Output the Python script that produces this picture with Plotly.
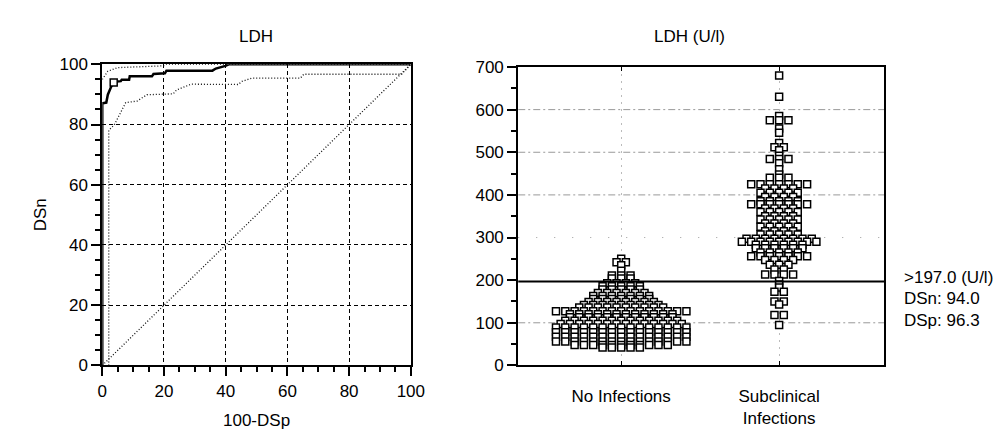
import plotly.graph_objects as go

# ---------------- data ----------------
# ROC curve (100-DSp, DSn)
roc_fpr = [0, 0, 0.2, 1.3, 1.8, 2.9, 3.9, 6.0, 6.3, 8.7, 8.9, 16.1, 16.6, 20.3, 20.8, 35.7, 36.8, 39.9, 41.0, 100]
roc_tpr = [0, 87.1, 87.1, 87.3, 89.9, 92.6, 94.2, 94.4, 94.9, 94.9, 96.0, 96.0, 96.8, 97.0, 97.9, 97.9, 98.6, 99.5, 100, 100]
# confidence bounds
ci_up_fpr = [0, 0.5, 1.8, 5.0, 19.8, 20.8, 100]
ci_up_tpr = [95.0, 95.8, 97.7, 98.9, 99.5, 100, 100]
ci_lo_fpr = [2.1, 2.1, 3.9, 5.0, 7.6, 11.3, 14.5, 23.0, 24.1, 28.8, 44.1, 45.2, 48.4, 64.2, 65.3, 97.0, 100]
ci_lo_tpr = [0, 78.1, 79.9, 82.0, 87.3, 87.8, 89.9, 90.2, 91.5, 93.4, 93.3, 94.3, 95.4, 95.4, 96.7, 96.7, 100]
diag = [0, 100]
cut_fpr = [3.7]
cut_tpr = [94.0]

# dot plot: LDH (U/l) value levels and number of animals at each level
categories = ["No Infections", "Subclinical<br>Infections"]
noinf_levels = [250, 242, 235, 222, 211, 204, 193, 186, 178, 170, 163, 156, 149, 142, 136, 127,
                120, 113, 105, 97, 89, 78, 67, 56, 48, 42]
noinf_counts = [1, 2, 1, 1, 3, 3, 4, 5, 5, 6, 7, 7, 8, 9, 10, 15,
                12, 12, 13, 14, 15, 15, 15, 15, 11, 5]
sub_levels = [680, 630, 585, 575, 556, 546, 522, 512, 505, 492, 484, 474, 460, 448, 440,
              425, 415, 405, 395, 385, 378, 368, 360, 350, 342, 333, 325, 315, 307,
              297, 290, 283, 275, 265, 256, 247, 236, 225, 213, 198,
              190, 183, 173, 150, 143, 118, 95]
sub_counts = [1, 1, 1, 3, 1, 1, 1, 2, 1, 1, 3, 1, 1, 1, 3,
              7, 4, 5, 4, 5, 7, 4, 5, 4, 5, 4, 5, 4, 5,
              8, 9, 6, 6, 5, 7, 4, 3, 2, 4, 1,
              1, 1, 2, 2, 1, 2, 1]
cutoff = 197.0
grid_levels = [100, 400, 500, 600]
sparse_grid_level = 300
info_lines = [">197.0 (U/l)", "DSn: 94.0", "DSp: 96.3"]

# ---------------- layout helpers ----------------
W, H = 1002, 431
FONT = "Liberation Sans, Arial, Helvetica, sans-serif"
FS = 17
PITCH = 0.059  # horizontal spacing of dots (x2 data units)


def swarm(center, levels, counts):
    xs, ys = [], []
    for v, n in zip(levels, counts):
        for i in range(n):
            xs.append(center + (i - (n - 1) / 2) * PITCH)
            ys.append(v)
    return xs, ys


fig = go.Figure()

# left ROC panel
fig.add_trace(go.Scatter(x=diag, y=diag, mode="lines", xaxis="x", yaxis="y",
                         line=dict(color="#111", width=1.3, dash="1px,2px"), hoverinfo="skip"))
fig.add_trace(go.Scatter(x=ci_up_fpr, y=ci_up_tpr, mode="lines", xaxis="x", yaxis="y",
                         line=dict(color="#111", width=1.3, dash="1px,2px")))
fig.add_trace(go.Scatter(x=ci_lo_fpr, y=ci_lo_tpr, mode="lines", xaxis="x", yaxis="y",
                         line=dict(color="#111", width=1.3, dash="1px,2px")))
fig.add_trace(go.Scatter(x=roc_fpr, y=roc_tpr, mode="lines", xaxis="x", yaxis="y",
                         line=dict(color="black", width=2.5)))
fig.add_trace(go.Scatter(x=cut_fpr, y=cut_tpr, mode="markers", xaxis="x", yaxis="y",
                         marker=dict(symbol="square", size=7, color="white",
                                     line=dict(color="black", width=1.5))))

# right dot plot
for c, (lv, ct) in enumerate([(noinf_levels, noinf_counts), (sub_levels, sub_counts)]):
    xs, ys = swarm(c, lv, ct)
    fig.add_trace(go.Scatter(x=xs, y=ys, mode="markers", xaxis="x2", yaxis="y2",
                             marker=dict(symbol="square", size=7, color="white",
                                         line=dict(color="black", width=1.5))))

shapes = []
for g in grid_levels:
    shapes.append(dict(type="line", xref="x2 domain", yref="y2", x0=0, x1=1, y0=g, y1=g,
                       line=dict(color="#999", width=1, dash="7px,3px,2px,3px"), layer="below"))
shapes.append(dict(type="line", xref="x2 domain", yref="y2", x0=0, x1=1,
                   y0=sparse_grid_level, y1=sparse_grid_level,
                   line=dict(color="#999", width=1, dash="1px,17px"), layer="below"))
shapes.append(dict(type="line", xref="x2 domain", yref="y2", x0=0, x1=1, y0=cutoff, y1=cutoff,
                   line=dict(color="black", width=2)))

axis_common = dict(showline=True, linewidth=2, linecolor="black", mirror=True,
                   zeroline=False, tickfont=dict(family=FONT, size=FS, color="black"))

annotations = [
    dict(text="LDH", x=248 / W, y=1 - 20 / H, xref="paper", yref="paper", showarrow=False,
         font=dict(family=FONT, size=FS), xanchor="center", yanchor="middle"),
    dict(text="LDH (U/l)", x=690 / W, y=1 - 20 / H, xref="paper", yref="paper", showarrow=False,
         font=dict(family=FONT, size=FS), xanchor="center", yanchor="middle"),
    dict(text="100-DSp", x=248 / W, y=1 - 422 / H, xref="paper", yref="paper", showarrow=False,
         font=dict(family=FONT, size=FS), xanchor="center", yanchor="middle"),
    dict(text="DSn", x=28 / W, y=1 - 207 / H, xref="paper", yref="paper", showarrow=False,
         font=dict(family=FONT, size=FS), xanchor="center", yanchor="middle", textangle=-90),
]
for i, t in enumerate(info_lines):
    annotations.append(dict(text=t, x=906 / W, y=1 - (273 + 22 * i) / H, xref="paper", yref="paper",
                            showarrow=False, font=dict(family=FONT, size=FS),
                            xanchor="left", yanchor="middle"))

fig.update_layout(
    width=W, height=H, autosize=False,
    margin=dict(l=0, r=0, t=0, b=0),
    paper_bgcolor="white", plot_bgcolor="white",
    showlegend=False,
    font=dict(family=FONT, size=FS, color="black"),
    xaxis=dict(domain=[91 / W, 405.5 / W], range=[0, 100], tick0=0, dtick=20,
               ticks="outside", ticklen=9, tickwidth=2, tickcolor="black",
               minor=dict(dtick=5, tick0=0, ticks="outside", ticklen=5, tickwidth=1.5,
                          tickcolor="black", showgrid=False),
               showgrid=True, gridcolor="black", gridwidth=1, griddash="4px,3px",
               **axis_common),
    yaxis=dict(domain=[(H - 364.5) / H, (H - 49.5) / H], range=[0, 100], tick0=0, dtick=20,
               ticks="outside", ticklen=9, tickwidth=2, tickcolor="black",
               minor=dict(dtick=5, tick0=0, ticks="outside", ticklen=5, tickwidth=1.5,
                          tickcolor="black", showgrid=False),
               showgrid=True, gridcolor="black", gridwidth=1, griddash="4px,3px",
               **axis_common),
    xaxis2=dict(domain=[515 / W, 888 / W], range=[-0.652, 1.665], anchor="y2",
                tickvals=[0, 1], ticktext=categories,
                ticks="inside", ticklen=4, tickwidth=1, tickcolor="black",
                ticklabelstandoff=14,
                showgrid=True, gridcolor="#bbb", gridwidth=1, griddash="2px,5px",
                showline=True, linewidth=2, linecolor="black", mirror="ticks",
                zeroline=False, tickfont=dict(family=FONT, size=FS, color="black")),
    yaxis2=dict(domain=[(H - 364.5) / H, (H - 52.3) / H], range=[0, 700], anchor="x2",
                tick0=0, dtick=100, ticks="outside", ticklen=9, tickwidth=2, tickcolor="black",
                minor=dict(dtick=50, tick0=0, ticks="outside", ticklen=5, tickwidth=1.5,
                           tickcolor="black", showgrid=False),
                showgrid=False, **axis_common),
    shapes=shapes,
    annotations=annotations,
)

fig.write_html("out.html")
